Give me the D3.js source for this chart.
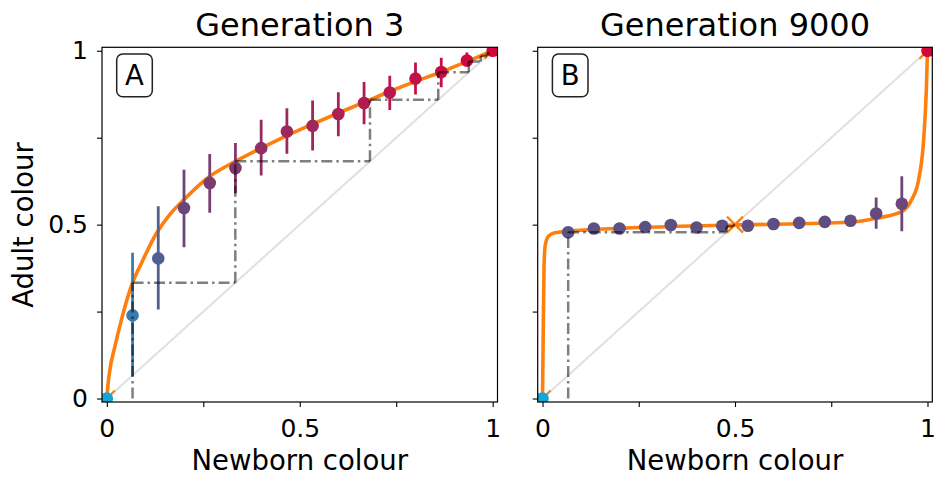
<!DOCTYPE html>
<html>
<head>
<meta charset="utf-8">
<script src="https://cdn.jsdelivr.net/npm/d3@7"></script>
<style>
  body { margin: 0; background: #fff; }
  svg { display: block; font-family: "DejaVu Sans", sans-serif; }
</style>
</head>
<body>
<div id="chart"></div>
<script>
// newborn colour of each group of parents
const newborn = [0, 0.0667, 0.1333, 0.2, 0.2667, 0.3333, 0.4, 0.4667, 0.5333, 0.6, 0.6667, 0.7333, 0.8, 0.8667, 0.9333, 1]

// generation 3 : mean adult colour and error bar ends
const gen3Adult = [0, 0.239, 0.403, 0.548, 0.620, 0.663, 0.720, 0.768, 0.784, 0.818, 0.850, 0.880, 0.920, 0.939, 0.972, 1]
const gen3Low = [0, 0.064, 0.256, 0.435, 0.534, 0.590, 0.641, 0.704, 0.713, 0.754, 0.789, 0.830, 0.874, 0.895, 0.955, 1]
const gen3High = [0, 0.419, 0.553, 0.658, 0.703, 0.735, 0.802, 0.835, 0.857, 0.881, 0.910, 0.928, 0.966, 0.980, 0.995, 1]

// generation 9000
const gen9000Adult = [0, 0.478, 0.489, 0.489, 0.493, 0.499, 0.492, 0.497, 0.497, 0.502, 0.505, 0.508, 0.511, 0.532, 0.560, 1]
const gen9000Low = [0, 0.470, 0.481, 0.481, 0.485, 0.491, 0.484, 0.489, 0.489, 0.494, 0.497, 0.500, 0.503, 0.488, 0.481, 1]
const gen9000High = [0, 0.486, 0.497, 0.497, 0.501, 0.507, 0.500, 0.505, 0.505, 0.510, 0.513, 0.516, 0.519, 0.578, 0.639, 1]

// fitted map (orange curve)
const gen3CurveX = [0, 0.003, 0.008, 0.021, 0.038, 0.0667, 0.09, 0.129, 0.163, 0.2, 0.267, 0.333, 0.4, 0.467, 0.533, 0.6, 0.667, 0.733, 0.8, 0.867, 0.933, 1]
const gen3CurveY = [0, 0.04, 0.083, 0.15, 0.227, 0.333, 0.39, 0.476, 0.529, 0.572, 0.639, 0.682, 0.72, 0.756, 0.789, 0.821, 0.852, 0.883, 0.912, 0.939, 0.969, 1]
const gen9000CurveX = [0, 0.002, 0.004, 0.007, 0.015, 0.03, 0.067, 0.214, 0.5, 0.8, 0.869, 0.934, 0.959, 0.977, 0.99, 0.997, 1]
const gen9000CurveY = [0, 0.2, 0.38, 0.44, 0.466, 0.476, 0.481, 0.49, 0.499, 0.507, 0.519, 0.538, 0.572, 0.629, 0.744, 0.888, 1]

// cobweb iterates starting from newborn colour 1/15
const gen3Cobweb = [0.0667, 0.333, 0.682, 0.859, 0.938, 0.969, 0.985, 0.993]
const gen9000Cobweb = [0.0667, 0.478, 0.495, 0.499, 0.5]

// fixed points: [value, drawn on top]
const gen3Fixed = [[0, false], [1, false]]
const gen9000Fixed = [[0, false], [1, false], [0.5, true]]

const ticks = [0, 0.25, 0.5, 0.75, 1]
const tickLabels = ["0", "", "0.5", "", "1"]

const W = 934, H = 478
const svg = d3.select("#chart").append("svg").attr("width", W).attr("height", H)

// dot colour follows adult colour
const colour = d3.scaleLinear().domain([0, 0.5, 1]).range(["#14a6d6", "#5e4f80", "#d4063c"])

function panel(opt){
    const x = d3.scaleLinear().domain([-0.0125, 1.0125]).range([opt.left, opt.right])
    const y = d3.scaleLinear().domain([-0.01, 1.01]).range([402, 47.3])
    const g = svg.append("g")

    g.append("clipPath").attr("id", "clip" + opt.id)
        .append("rect")
        .attr("x", opt.left).attr("y", 47.3)
        .attr("width", opt.right - opt.left).attr("height", 402 - 47.3)

    const inner = g.append("g").attr("clip-path", `url(#clip${opt.id})`)

    // y = x reference
    inner.append("line")
        .attr("x1", x(0)).attr("y1", y(0)).attr("x2", x(1)).attr("y2", y(1))
        .attr("stroke", "#e0e0e0").attr("stroke-width", 2)

    // fitted curve
    const line = d3.line().x(d => x(d[0])).y(d => y(d[1])).curve(d3.curveMonotoneX)
    inner.append("path")
        .datum(opt.curveX.map((v, i) => [v, opt.curveY[i]]))
        .attr("d", line)
        .attr("fill", "none").attr("stroke", "#ff7f0e").attr("stroke-width", 3.6)

    function cross(v){
        const s = 8
        inner.append("path")
            .attr("d", `M${x(v) - s},${y(v) - s}L${x(v) + s},${y(v) + s}M${x(v) - s},${y(v) + s}L${x(v) + s},${y(v) - s}`)
            .attr("stroke", "#ff7f0e").attr("stroke-width", 2.2).attr("fill", "none")
    }
    opt.fixed.filter(f => !f[1]).forEach(f => cross(f[0]))

    // error bars and means
    const pts = newborn.map((v, i) => ({x: v, y: opt.adult[i], lo: opt.low[i], hi: opt.high[i]}))
    inner.selectAll("line.err").data(pts).enter().append("line")
        .attr("class", "err")
        .attr("x1", d => x(d.x)).attr("x2", d => x(d.x))
        .attr("y1", d => y(d.lo)).attr("y2", d => y(d.hi))
        .attr("stroke", d => colour(d.y)).attr("stroke-width", 2.8)
    inner.selectAll("circle").data(pts).enter().append("circle")
        .attr("cx", d => x(d.x)).attr("cy", d => y(d.y)).attr("r", 6.3)
        .attr("fill", d => colour(d.y))

    opt.fixed.filter(f => f[1]).forEach(f => cross(f[0]))

    // cobweb
    const web = [[opt.cobweb[0], 0]]
    for (let i = 1; i < opt.cobweb.length; i++){
        web.push([opt.cobweb[i - 1], opt.cobweb[i]])
        web.push([opt.cobweb[i], opt.cobweb[i]])
    }
    for (let i = 1; i < web.length; i++){
        inner.append("line")
            .attr("x1", x(web[i - 1][0])).attr("y1", y(web[i - 1][1]))
            .attr("x2", x(web[i][0])).attr("y2", y(web[i][1]))
            .attr("stroke", "#000").attr("stroke-opacity", 0.5).attr("stroke-width", 2.5)
            .attr("stroke-dasharray", "11,4,2.5,4")
    }

    // axes
    const xAxis = d3.axisBottom(x).tickValues(ticks).tickFormat((d, i) => tickLabels[i]).tickSize(5).tickPadding(12)
    const yAxis = d3.axisLeft(y).tickValues(ticks).tickFormat((d, i) => opt.yLabels ? tickLabels[i] : "").tickSize(5).tickPadding(9)
    g.append("g").attr("transform", "translate(0,402)").call(xAxis)
    g.append("g").attr("transform", `translate(${opt.left},0)`).call(yAxis)
    g.selectAll(".domain").remove()
    g.selectAll(".tick line").attr("stroke", "#000").attr("stroke-width", 1.1)
    g.selectAll(".tick text").attr("font-size", 25).attr("fill", "#000").attr("font-family", "DejaVu Sans")

    // frame
    g.append("rect")
        .attr("x", opt.left).attr("y", 47.3)
        .attr("width", opt.right - opt.left).attr("height", 402 - 47.3)
        .attr("fill", "none").attr("stroke", "#000").attr("stroke-width", 1.2)

    // panel letter
    g.append("rect")
        .attr("x", opt.left + 14.7).attr("y", 54)
        .attr("width", 35.6).attr("height", 42.7).attr("rx", 6)
        .attr("fill", "#fff").attr("stroke", "#222").attr("stroke-width", 1.5)
    g.append("text")
        .attr("x", opt.left + 32.5).attr("y", 85.3)
        .attr("text-anchor", "middle").attr("font-size", 27.5)
        .text(opt.letter)

    // title and x label
    const mid = (opt.left + opt.right) / 2
    g.append("text").attr("x", mid).attr("y", 36)
        .attr("text-anchor", "middle").attr("font-size", 32)
        .text(opt.title)
    g.append("text").attr("x", mid).attr("y", 470)
        .attr("text-anchor", "middle").attr("font-size", 27.5)
        .text("Newborn colour")
}

panel({id: "a", left: 102, right: 497.5, title: "Generation 3", letter: "A", yLabels: true,
    adult: gen3Adult, low: gen3Low, high: gen3High,
    curveX: gen3CurveX, curveY: gen3CurveY, cobweb: gen3Cobweb, fixed: gen3Fixed})
panel({id: "b", left: 537.7, right: 932.3, title: "Generation 9000", letter: "B", yLabels: false,
    adult: gen9000Adult, low: gen9000Low, high: gen9000High,
    curveX: gen9000CurveX, curveY: gen9000CurveY, cobweb: gen9000Cobweb, fixed: gen9000Fixed})

svg.append("text")
    .attr("transform", "translate(33,225) rotate(-90)")
    .attr("text-anchor", "middle").attr("font-size", 27.5)
    .text("Adult colour")
</script>
</body>
</html>
